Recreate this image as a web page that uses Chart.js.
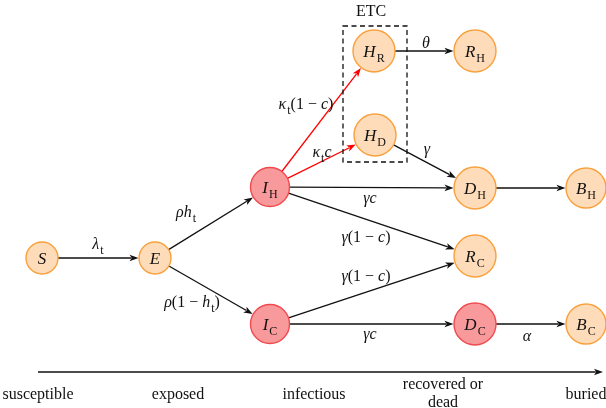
<!DOCTYPE html>
<html>
<head>
<meta charset="utf-8">
<script src="https://cdn.jsdelivr.net/npm/chart.js@4.4.1/dist/chart.umd.min.js"></script>
<style>
  body { margin: 0; background: #fff; }
  #canvas { display: block; }
</style>
</head>
<body>
<canvas id="canvas" width="606" height="408"></canvas>
<script>
// compartiments (positions sur les échelles x / y)
const nodeNames = ['S', 'E', 'I_H', 'I_C', 'H_R', 'H_D', 'R_H', 'D_H', 'B_H', 'R_C', 'D_C', 'B_C'];
const nodeX = [42, 155, 270, 270, 374, 375, 475, 475, 586, 475, 475, 586];
const nodeY = [258, 258, 187, 324, 51, 135, 51, 188, 188, 256, 324, 324];
const nodeRed = [false, false, true, true, false, false, false, false, false, false, true, false];

// transitions
const edgeFrom = ['S', 'E', 'E', 'I_H', 'I_H', 'I_H', 'I_H', 'I_C', 'I_C', 'H_R', 'H_D', 'D_H', 'D_C'];
const edgeTo = ['E', 'I_H', 'I_C', 'H_R', 'H_D', 'D_H', 'R_C', 'R_C', 'D_C', 'R_H', 'D_H', 'B_H', 'B_C'];
const edgeRed = [false, false, false, true, true, false, false, false, false, false, false, false, false];

// taux
const rateLabels = ['λ_t', 'ρh_t', 'ρ(1 − h_t)', 'κ_t(1 − c)', 'κ_tc', 'γc', 'γ(1 − c)', 'γ(1 − c)', 'γc', 'θ', 'γ', 'α'];
const rateX = [98, 186, 192, 306, 322, 370, 366, 366, 370, 426, 427, 527];
const rateY = [244, 212, 302, 104, 152, 198, 237, 276, 334, 43, 149, 336];

// axe des stades
const stageLabels = ['susceptible', 'exposed', 'infectious', ['recovered or', 'dead'], 'buried'];
const stageX = [38, 178, 314, 443, 586];
const stageAxis = [38, 603];

// boîte ETC
const etcBox = [343, 26, 407, 162];

const radiusOf = name => (name === 'S' || name === 'E') ? 16 : (name[0] === 'I' ? 19.5 : (name[0] === 'B' ? 20 : 21));
const serif = "'Liberation Serif', 'Times New Roman', 'DejaVu Serif', serif";

// petit parseur : lettres en italique, '_' = indice droit
function parseMath(s) {
    const out = [];
    let i = 0;
    while (i < s.length) {
        const ch = s[i];
        if (ch === '_') {
            out.push([s[i + 1], 's']);
            i += 2;
            continue;
        }
        out.push([ch, /[A-Za-z\u0370-\u03ff]/.test(ch) ? 'i' : 'r']);
        i++;
    }
    return out;
}

function drawMath(ctx, str, x, y, size) {
    const parts = parseMath(str);
    const fontFor = st => st === 'i' ? `italic ${size}px ${serif}` : (st === 's' ? `${Math.round(size * 0.72)}px ${serif}` : `${size}px ${serif}`);
    let total = 0;
    parts.forEach(p => { ctx.font = fontFor(p[1]); total += ctx.measureText(p[0]).width + (p[1] === 's' ? 1 : 0); });
    let cx = x - total / 2;
    ctx.textBaseline = 'alphabetic';
    ctx.textAlign = 'left';
    const base = y + size * 0.33;
    parts.forEach(p => {
        ctx.font = fontFor(p[1]);
        const dy = p[1] === 's' ? size * 0.3 : 0;
        ctx.fillText(p[0], cx + (p[1] === 's' ? 1 : 0), base + dy);
        cx += ctx.measureText(p[0]).width + (p[1] === 's' ? 1 : 0);
    });
}

function arrow(ctx, x1, y1, x2, y2, color) {
    const a = Math.atan2(y2 - y1, x2 - x1);
    const len = 9, half = 3.3;
    ctx.strokeStyle = color;
    ctx.fillStyle = color;
    ctx.lineWidth = 1.3;
    ctx.beginPath();
    ctx.moveTo(x1, y1);
    ctx.lineTo(x2 - Math.cos(a) * len * 0.8, y2 - Math.sin(a) * len * 0.8);
    ctx.stroke();
    ctx.beginPath();
    ctx.moveTo(x2, y2);
    ctx.lineTo(x2 - Math.cos(a) * len - Math.sin(a) * half, y2 - Math.sin(a) * len + Math.cos(a) * half);
    ctx.lineTo(x2 - Math.cos(a) * len * 0.75, y2 - Math.sin(a) * len * 0.75);
    ctx.lineTo(x2 - Math.cos(a) * len + Math.sin(a) * half, y2 - Math.sin(a) * len - Math.cos(a) * half);
    ctx.closePath();
    ctx.fill();
}

const diagramPlugin = {
    id: 'diagram',
    beforeDatasetsDraw(chart) {
        const ctx = chart.ctx;
        const sx = chart.scales.x, sy = chart.scales.y;
        ctx.save();
        // flèches entre compartiments
        for (let k = 0; k < edgeFrom.length; k++) {
            const i = nodeNames.indexOf(edgeFrom[k]), j = nodeNames.indexOf(edgeTo[k]);
            const x1 = sx.getPixelForValue(nodeX[i]), y1 = sy.getPixelForValue(nodeY[i]);
            const x2 = sx.getPixelForValue(nodeX[j]), y2 = sy.getPixelForValue(nodeY[j]);
            const d = Math.hypot(x2 - x1, y2 - y1);
            const ux = (x2 - x1) / d, uy = (y2 - y1) / d;
            const r1 = radiusOf(edgeFrom[k]), r2 = radiusOf(edgeTo[k]) + 0.5;
            arrow(ctx, x1 + ux * r1, y1 + uy * r1, x2 - ux * r2, y2 - uy * r2, edgeRed[k] ? '#f00' : '#111');
        }
        // boîte ETC en pointillés
        ctx.setLineDash([5, 3.5]);
        ctx.strokeStyle = '#111';
        ctx.lineWidth = 1.3;
        const bx1 = sx.getPixelForValue(etcBox[0]), by1 = sy.getPixelForValue(etcBox[1]);
        const bx2 = sx.getPixelForValue(etcBox[2]), by2 = sy.getPixelForValue(etcBox[3]);
        ctx.strokeRect(bx1, by1, bx2 - bx1, by2 - by1);
        ctx.setLineDash([]);
        // axe des stades
        const ay = sy.getPixelForValue(372);
        arrow(ctx, sx.getPixelForValue(stageAxis[0]), ay, sx.getPixelForValue(stageAxis[1]), ay, '#111');
        ctx.restore();
    },
    afterDatasetsDraw(chart) {
        const ctx = chart.ctx;
        const sx = chart.scales.x, sy = chart.scales.y;
        ctx.save();
        ctx.fillStyle = '#111';
        // noms des compartiments
        nodeNames.forEach((n, i) => {
            drawMath(ctx, n, sx.getPixelForValue(nodeX[i]), sy.getPixelForValue(nodeY[i]), 17);
        });
        // taux de transition
        rateLabels.forEach((t, i) => {
            drawMath(ctx, t, sx.getPixelForValue(rateX[i]), sy.getPixelForValue(rateY[i]), 16);
        });
        ctx.font = `16px ${serif}`;
        ctx.textAlign = 'center';
        ctx.textBaseline = 'middle';
        ctx.fillText('ETC', sx.getPixelForValue(371), sy.getPixelForValue(12));
        stageLabels.forEach((l, i) => {
            const x = sx.getPixelForValue(stageX[i]);
            if (Array.isArray(l)) {
                ctx.fillText(l[0], x, sy.getPixelForValue(385));
                ctx.fillText(l[1], x, sy.getPixelForValue(403));
            } else {
                ctx.fillText(l, x, sy.getPixelForValue(395));
            }
        });
        ctx.restore();
    }
};

new Chart(
    document.querySelector('#canvas'),
    {
        type: 'scatter',
        data: {
            datasets: [
                {
                    data: nodeNames.map((n, i) => ({ x: nodeX[i], y: nodeY[i] })),
                    pointRadius: nodeNames.map(radiusOf),
                    pointHoverRadius: nodeNames.map(radiusOf),
                    backgroundColor: nodeRed.map(r => r ? '#f89a9b' : '#fedcba'),
                    borderColor: nodeRed.map(r => r ? '#f04a4f' : '#f9a03c'),
                    borderWidth: 1.4,
                    clip: false
                }
            ]
        },
        options: {
            responsive: false,
            animation: false,
            layout: { padding: 0, autoPadding: false },
            plugins: {
                legend: { display: false },
                tooltip: { enabled: false }
            },
            scales: {
                x: { type: 'linear', min: 0, max: 606, display: false },
                y: { type: 'linear', min: 0, max: 408, reverse: true, display: false }
            }
        },
        plugins: [diagramPlugin]
    }
);
</script>
</body>
</html>
